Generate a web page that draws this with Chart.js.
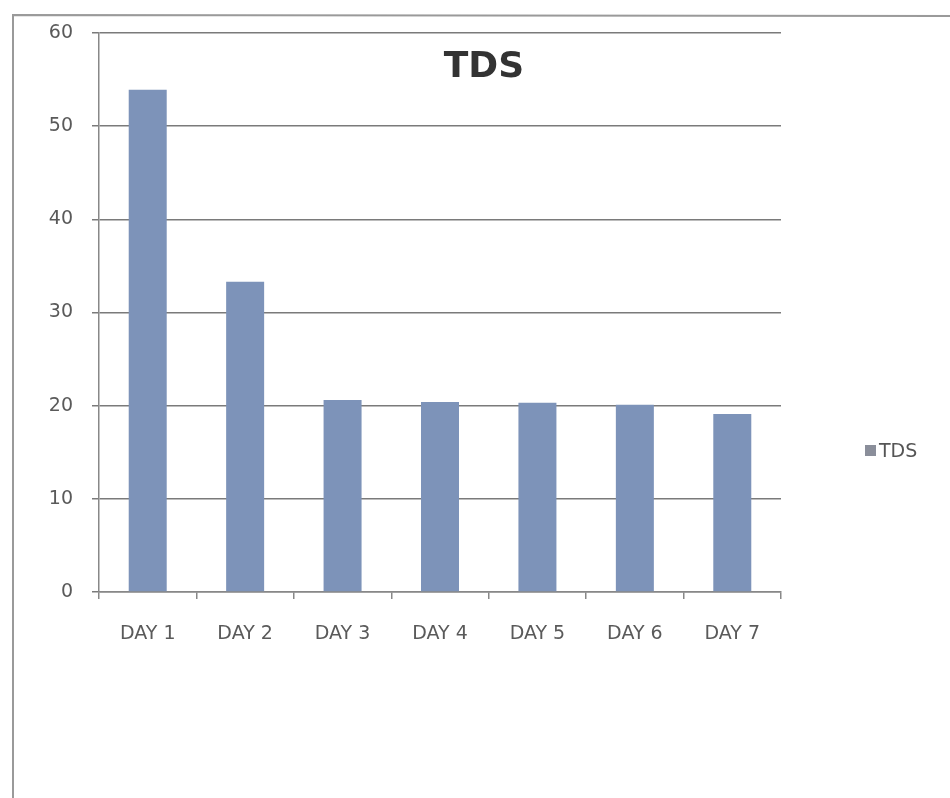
<!DOCTYPE html>
<html>
<head>
<meta charset="utf-8">
<title>TDS</title>
<script src="https://cdn.jsdelivr.net/npm/chart.js@4/dist/chart.umd.min.js"></script>
<style>
  html, body { margin: 0; padding: 0; background: #fff; }
  #wrap { width: 950px; height: 798px; }
</style>
</head>
<body>
<div id="wrap"><canvas id="chart" width="950" height="798"></canvas></div>
<script>
const days = ["DAY 1", "DAY 2", "DAY 3", "DAY 4", "DAY 5", "DAY 6", "DAY 7"];
const tds = [53.9, 33.3, 20.6, 20.4, 20.3, 20.1, 19.1];
const yTicks = [0, 10, 20, 30, 40, 50, 60];

const barColor = "#7d93b9";
const font = "'DejaVu Sans', 'Liberation Sans', sans-serif";

// frame around the sheet, title inside the plot, legend at the right
const decorations = {
  id: "decorations",
  beforeDraw(chart) {
    const ctx = chart.ctx;
    ctx.save();
    ctx.fillStyle = "#fff";
    ctx.fillRect(0, 0, chart.width, chart.height);
    ctx.strokeStyle = "#9a9a9a";
    ctx.lineWidth = 2;
    ctx.beginPath();
    ctx.moveTo(13, chart.height);
    ctx.lineTo(13, 15);
    ctx.lineTo(chart.width, 16);
    ctx.stroke();
    ctx.restore();
  },
  afterDraw(chart) {
    const ctx = chart.ctx;
    const ds = chart.data.datasets[0];
    ctx.save();
    ctx.fillStyle = "#333";
    ctx.font = "bold 36px " + font;
    ctx.textAlign = "center";
    ctx.textBaseline = "middle";
    ctx.fillText(ds.label, 484, 68);

    ctx.fillStyle = "#8a8e9a";
    ctx.fillRect(865, 445, 11, 11);
    ctx.fillStyle = "#555";
    ctx.font = "19px " + font;
    ctx.textAlign = "left";
    ctx.fillText(ds.label, 879, 452);
    ctx.restore();
  }
};

new Chart(document.getElementById("chart"), {
  type: "bar",
  data: {
    labels: days,
    datasets: [{
      label: "TDS",
      data: tds,
      backgroundColor: barColor,
      borderWidth: 0,
      barPercentage: 0.39,
      categoryPercentage: 1
    }]
  },
  options: {
    responsive: false,
    animation: false,
    layout: { padding: { left: 0, top: 33, right: 169, bottom: 0 } },
    plugins: {
      legend: { display: false },
      title: { display: false },
      tooltip: { enabled: false }
    },
    scales: {
      x: {
        grid: {
          display: true,
          drawOnChartArea: false,
          drawTicks: true,
          tickLength: 7,
          color: "#888",
          lineWidth: 1.5
        },
        border: { display: true, color: "#888", width: 1.5 },
        ticks: {
          color: "#5a5a5a",
          font: { family: font, size: 19 },
          padding: 24
        },
        afterFit(scale) { scale.height = 798 - 592; }
      },
      y: {
        min: 0,
        max: 60,
        afterBuildTicks(scale) { scale.ticks = yTicks.map(v => ({ value: v })); },
        grid: {
          color: "#7a7a7a",
          lineWidth: 1.5,
          tickLength: 7
        },
        border: { display: true, color: "#888", width: 1.5 },
        ticks: {
          color: "#5a5a5a",
          font: { family: font, size: 19 },
          padding: 19
        },
        afterFit(scale) { scale.width = 99; }
      }
    }
  },
  plugins: [decorations]
});
</script>
</body>
</html>
